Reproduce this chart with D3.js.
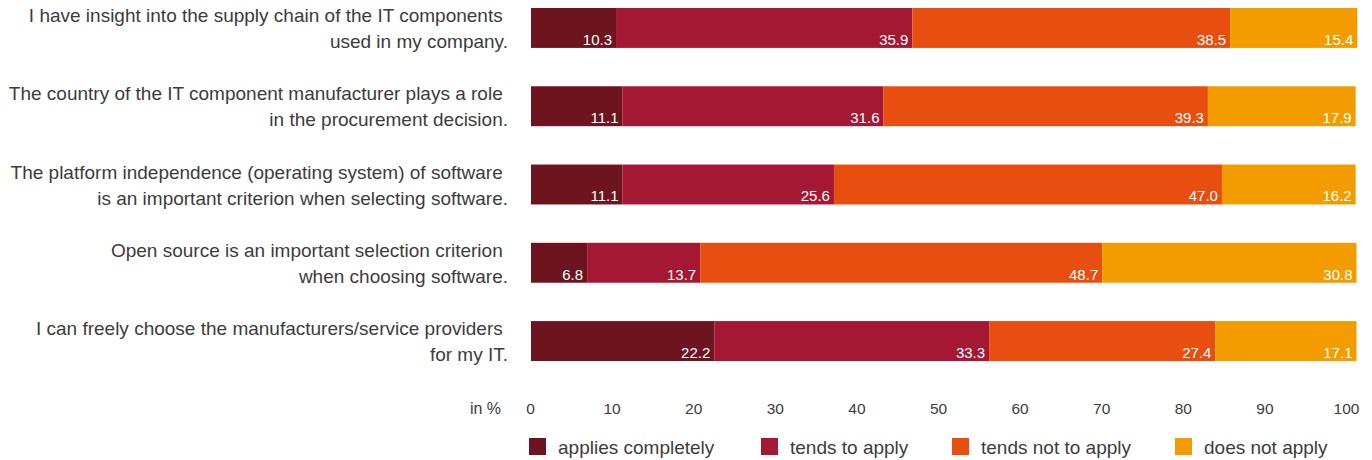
<!DOCTYPE html>
<html>
<head>
<meta charset="utf-8">
<script src="https://cdn.jsdelivr.net/npm/d3@7"></script>
<style>
  html, body { margin: 0; padding: 0; background: #fff; }
  svg { display: block; }
  text { font-family: "Liberation Sans", Arial, sans-serif; }
</style>
</head>
<body>
<svg id="chart" width="1372" height="460"></svg>
<script>
const categories = [
  ["I have insight into the supply chain of the IT components ", "used in my company."],
  ["The country of the IT component manufacturer plays a role ", "in the procurement decision."],
  ["The platform independence (operating system) of software ", "is an important criterion when selecting software."],
  ["Open source is an important selection criterion ", "when choosing software."],
  ["I can freely choose the manufacturers/service providers ", "for my IT."]
];
const seriesNames = ["applies completely", "tends to apply", "tends not to apply", "does not apply"];
const appliesCompletely = [10.3, 11.1, 11.1, 6.8, 22.2];
const tendsToApply      = [35.9, 31.6, 25.6, 13.7, 33.3];
const tendsNotToApply   = [38.5, 39.3, 47.0, 48.7, 27.4];
const doesNotApply      = [15.4, 17.9, 16.2, 30.8, 17.1];
const tickValues = [0, 10, 20, 30, 40, 50, 60, 70, 80, 90, 100];
const colors = ["#6d141e", "#a41834", "#e84e10", "#f39c00"];

const rows = categories.map((c, i) => ({
  idx: i,
  label: c,
  [seriesNames[0]]: appliesCompletely[i],
  [seriesNames[1]]: tendsToApply[i],
  [seriesNames[2]]: tendsNotToApply[i],
  [seriesNames[3]]: doesNotApply[i]
}));

const svg = d3.select("#chart");
const x = d3.scaleLinear().domain([0, 100]).range([531, 1356.5]);
const xAxisScale = d3.scaleLinear().domain([0, 100]).range([530, 1346]);
const y = d3.scaleBand().domain(d3.range(categories.length)).range([8, 361]).paddingInner(0.49).paddingOuter(0);
const color = d3.scaleOrdinal().domain(seriesNames).range(colors);

const stack = d3.stack().keys(seriesNames);
const layers = stack(rows);

const g = svg.append("g");
const layer = g.selectAll("g.layer").data(layers).join("g")
  .attr("class", "layer")
  .attr("fill", d => color(d.key));

layer.selectAll("rect").data(d => d).join("rect")
  .attr("x", d => x(d[0]))
  .attr("y", (d, i) => y(i))
  .attr("width", d => x(d[1]) - x(d[0]))
  .attr("height", y.bandwidth());

// value labels
layers.forEach(L => {
  g.append("g").selectAll("text").data(L).join("text")
    .attr("x", d => x(d[1]) - 4)
    .attr("y", (d, i) => y(i) + y.bandwidth() - 3)
    .attr("text-anchor", "end")
    .attr("fill", "#fff")
    .attr("font-size", 15)
    .text(d => (d[1] - d[0]).toFixed(1));
});

// category labels
const catG = svg.append("g");
rows.forEach((r, i) => {
  const cy = y(i) + y.bandwidth() / 2;
  const t = catG.append("text")
    .attr("text-anchor", "end")
    .attr("fill", "#3c3c3c")
    .attr("font-size", 19)
    .style("white-space", "pre");
  t.append("tspan").attr("x", 508).attr("y", cy - 6).text(r.label[0]);
  t.append("tspan").attr("x", 508).attr("y", cy + 20).text(r.label[1]);
});

// axis
const axis = d3.axisBottom(xAxisScale).tickValues(tickValues).tickSize(0).tickPadding(0);
const ax = svg.append("g").attr("transform", "translate(0,400)").call(axis);
ax.select(".domain").remove();
ax.selectAll("text")
  .attr("fill", "#3c3c3c")
  .attr("font-size", 15.5)
  .attr("dy", null)
  .attr("y", 14)
  .style("font-family", "'Liberation Sans', Arial, sans-serif");
svg.append("text")
  .attr("x", 501).attr("y", 414)
  .attr("text-anchor", "end")
  .attr("fill", "#3c3c3c")
  .attr("font-size", 16)
  .text("in %");

// legend
const legendX = [529, 761, 952, 1175];
const leg = svg.append("g").selectAll("g").data(seriesNames).join("g")
  .attr("transform", (d, i) => `translate(${legendX[i]},438)`);
leg.append("rect").attr("width", 17).attr("height", 17).attr("fill", d => color(d));
leg.append("text").attr("x", 29).attr("y", 16)
  .attr("fill", "#3c3c3c").attr("font-size", 19).text(d => d);
</script>
</body>
</html>
